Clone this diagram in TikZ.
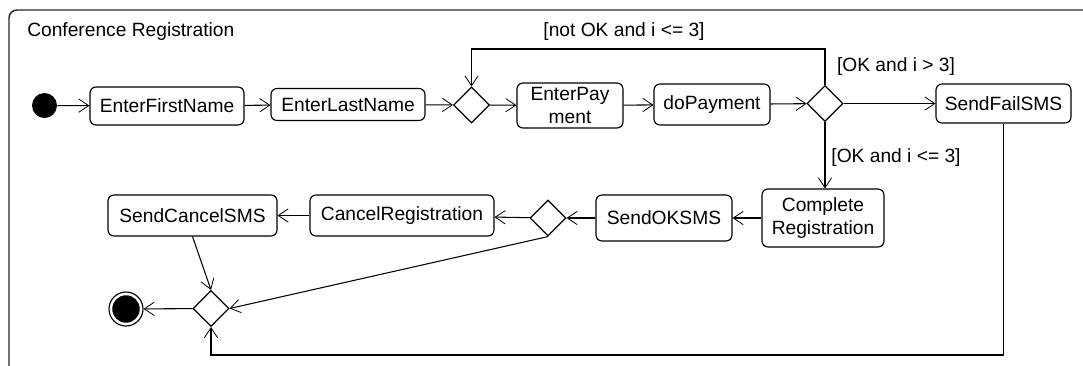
\documentclass[tikz,border=0pt]{standalone}
\usepackage{fontspec}
\setmainfont{Liberation Sans}
\usetikzlibrary{arrows.meta,shapes.geometric}
\begin{document}
\begin{tikzpicture}[x=0.75pt,y=-0.75pt,
  every node/.style={font=\fontsize{14.4}{17.5}\selectfont},
  act/.style={draw,rounded corners=4.5pt,line width=0.85pt,align=center,inner sep=0pt},
  dec/.style={draw,diamond,line width=0.85pt,inner sep=0pt,minimum width=27pt,minimum height=27pt},
  flow/.style={line width=0.8pt,-{Straight Barb[length=7.5pt,width=10pt,line width=0.6pt]}},
  lbl/.style={inner sep=0pt}
  ]
\useasboundingbox (0,0) rectangle (1083,365);
\draw[line width=1.1pt,draw=black!85,rounded corners=6pt] (9,370) -- (9,10) -- (1090,10);
\node[lbl,anchor=west] (title) at (27,32) {Conference Registration};

\node[circle,fill=black,minimum size=18.75pt,inner sep=0pt] (init) at (44.5,105.5) {};
\node[act,minimum width=115.5pt,minimum height=28.5pt] (efn) at (167,106) {EnterFirstName};
\node[act,minimum width=115.5pt,minimum height=24pt] (eln) at (348,104.5) {EnterLastName};
\node[dec] (d1) at (471.5,105) {};
\node[act,minimum width=79.5pt,minimum height=33.75pt] (ep) at (570,105.5) {EnterPay\\ment};
\node[act,minimum width=87pt,minimum height=30.75pt] (dp) at (712,104.5) {doPayment};
\node[dec] (d2) at (825,103.5) {};
\node[act,minimum width=101.25pt,minimum height=29.25pt] (sfs) at (1003.5,103.5) {SendFailSMS};
\node[act,minimum width=91.5pt,minimum height=43.5pt] (cr) at (823,218) {Complete\\Registration};
\node[act,minimum width=102pt,minimum height=34.5pt] (ok) at (664,218) {SendOKSMS};
\node[dec] (d3) at (548,218) {};
\node[act,minimum width=138pt,minimum height=30.75pt] (cancel) at (402,215.5) {CancelRegistration};
\node[act,minimum width=126.75pt,minimum height=30.75pt] (scs) at (192.5,215.5) {SendCancelSMS};
\node[dec] (d4) at (211,308.5) {};
\node[circle,draw,line width=0.85pt,minimum size=25.5pt,inner sep=0pt,
  path picture={\fill (path picture bounding box.center) circle[radius=10.3pt];}] (fin) at (126,309) {};

\node[lbl] (g1) at (624,32) {[not OK and i <= 3]};
\node[lbl] (g2) at (896,67) {[OK and i > 3]};
\node[lbl] (g3) at (896,158) {[OK and i <= 3]};

\coordinate (loop) at (0,49);
\coordinate (bot) at (0,355);

\draw[flow] (init) -- (efn);
\draw[flow] (efn) -- (eln);
\draw[flow] (eln) -- (d1);
\draw[flow] (d1) -- (ep);
\draw[flow] (ep) -- (dp);
\draw[flow] (dp) -- (d2);
\draw[flow] (d2) -- (sfs);
\draw[flow] (d2.north) -- (d2.north |- loop) -| (d1.north);
\draw[flow] (d2.south) -- (d2.south |- cr.north);
\draw[flow] (cr) -- (ok);
\draw[flow] (ok) -- (d3);
\draw[flow] (d3) -- (cancel);
\draw[flow] (cancel) -- (scs);
\draw[flow] (scs.south) -- (d4.north);
\draw[flow] (d3.south) -- (d4.east);
\draw[flow] (sfs.south) -- (sfs.south |- bot) -| (d4.south);
\draw[flow] (d4) -- (fin);
\end{tikzpicture}
\end{document}
